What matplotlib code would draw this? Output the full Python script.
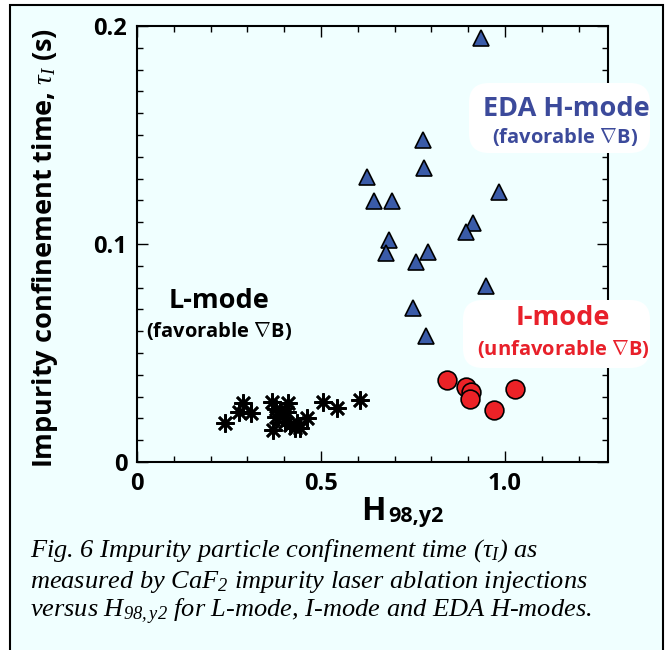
import matplotlib
matplotlib.use('Agg')
import matplotlib.pyplot as plt
from matplotlib.patches import FancyBboxPatch, Rectangle
from matplotlib.ticker import MultipleLocator

# 데이터: 그림에서 읽은 값 (H98,y2 , tau_I)
lmode_h = [0.239, 0.278, 0.289, 0.311, 0.366, 0.370, 0.377, 0.388, 0.379, 0.411,
           0.408, 0.402, 0.415, 0.434, 0.443, 0.429, 0.461, 0.506, 0.544, 0.607]
lmode_tau = [0.0177, 0.0231, 0.0269, 0.0226, 0.0276, 0.0147, 0.0208, 0.0239, 0.0242, 0.0272,
             0.0231, 0.0185, 0.0170, 0.0177, 0.0154, 0.0154, 0.0200, 0.0276, 0.0246, 0.0284]

hmode_h = [0.934, 0.776, 0.779, 0.625, 0.644, 0.693, 0.984, 0.914,
           0.895, 0.684, 0.676, 0.792, 0.759, 0.949, 0.749, 0.786]
hmode_tau = [0.1943, 0.1477, 0.1347, 0.1309, 0.1197, 0.1197, 0.1240, 0.1098,
             0.1057, 0.1018, 0.0957, 0.0965, 0.0919, 0.0807, 0.0708, 0.0578]

imode_h = [0.842, 0.895, 0.909, 0.906, 1.026, 0.969]
imode_tau = [0.0376, 0.0345, 0.0320, 0.0288, 0.0333, 0.0238]

x_ticks = [0, 0.5, 1.0]
x_ticklabels = ['0', '0.5', '1.0']
y_ticks = [0, 0.1, 0.2]
y_ticklabels = ['0', '0.1', '0.2']

bg = '#F0FFFF'
blue_txt = '#3C4A9B'
red_txt = '#E8202A'
sans = ['Open Sans', 'DejaVu Sans']

plt.rcParams['font.family'] = sans
plt.rcParams['mathtext.fontset'] = 'custom'
plt.rcParams['mathtext.it'] = 'Liberation Serif:italic'
plt.rcParams['mathtext.rm'] = 'Liberation Serif:italic'

fig = plt.figure(figsize=(6.66, 6.5), dpi=100, facecolor='white')

# 바깥 테두리
fig.add_artist(Rectangle((10 / 666, -0.02), 653 / 666, 1.02 - 5 / 650,
                         transform=fig.transFigure, facecolor=bg,
                         edgecolor='black', linewidth=1.5, zorder=-5))

ax = fig.add_axes([0.2057, 0.2892, 0.7072, 0.6708])
ax.set_facecolor(bg)

ax.plot(lmode_h, lmode_tau, ls='none', marker=(8, 2, 0), ms=13, mew=1.9,
        color='black')
ax.plot(hmode_h, hmode_tau, ls='none', marker='^', ms=11.5, mew=1.2,
        mfc='#3A5BA8', mec='black')
ax.plot(imode_h, imode_tau, ls='none', marker='o', ms=13.5, mew=1.2,
        mfc='#EC2227', mec='black')

ax.set_xlim(0, 1.28)
ax.set_ylim(0, 0.2)
ax.set_xticks(x_ticks)
ax.set_xticklabels(x_ticklabels)
ax.set_yticks(y_ticks)
ax.set_yticklabels(y_ticklabels)
ax.xaxis.set_minor_locator(MultipleLocator(0.1))
ax.yaxis.set_minor_locator(MultipleLocator(0.01))
ax.tick_params(which='both', direction='in', top=True, right=True, width=1)
ax.tick_params(which='major', length=8)
ax.tick_params(which='minor', length=4.5)
ax.tick_params(axis='x', pad=7)
ax.tick_params(axis='y', pad=7)
for lab in ax.get_xticklabels() + ax.get_yticklabels():
    lab.set_fontsize(17)
    lab.set_fontweight('bold')
for sp in ax.spines.values():
    sp.set_linewidth(1.5)

# 축 레이블
fig.text(45 / 666, 1 - 248 / 650, r'Impurity confinement time, $\tau_{I}$ (s)',
         rotation=90, ha='center', va='center', fontsize=19.5, fontweight='bold')
fig.text(386 / 666, 1 - 520 / 650, 'H', ha='right', va='baseline',
         fontsize=23, fontweight='bold')
fig.text(388 / 666, 1 - 522 / 650, '98,y2', ha='left', va='baseline',
         fontsize=15.5, fontweight='bold')

# 라벨 상자
fig.add_artist(FancyBboxPatch((469 / 666, 1 - 153 / 650), 181 / 666, 70 / 650,
                              boxstyle='round,pad=0,rounding_size=0.03',
                              transform=fig.transFigure, facecolor='white',
                              edgecolor='none', zorder=3))
fig.add_artist(FancyBboxPatch((463 / 666, 1 - 368 / 650), 187 / 666, 68 / 650,
                              boxstyle='round,pad=0,rounding_size=0.03',
                              transform=fig.transFigure, facecolor='white',
                              edgecolor='none', zorder=3))

sub_fav = r'(favorable $\nabla$B)'
sub_unf = r'(unfavorable $\nabla$B)'
fig.text(566 / 666, 1 - 109 / 650, 'EDA H-mode', ha='center', va='center',
         fontsize=19.5, fontweight='bold', color=blue_txt, zorder=4)
fig.text(565 / 666, 1 - 137 / 650, sub_fav, ha='center', va='center',
         fontsize=14.5, fontweight='bold', color=blue_txt, zorder=4)
fig.text(563 / 666, 1 - 318 / 650, 'I-mode', ha='center', va='center',
         fontsize=19.5, fontweight='bold', color=red_txt, zorder=4)
fig.text(563 / 666, 1 - 349 / 650, sub_unf, ha='center', va='center',
         fontsize=14.5, fontweight='bold', color=red_txt, zorder=4)
fig.text(219 / 666, 1 - 301 / 650, 'L-mode', ha='center', va='center',
         fontsize=19.5, fontweight='bold', color='black', zorder=4)
fig.text(219 / 666, 1 - 331 / 650, sub_fav, ha='center', va='center',
         fontsize=14.5, fontweight='bold', color='black', zorder=4)

# 캡션
cap = dict(family='Liberation Serif', style='italic', fontsize=19,
           ha='left', va='baseline')
fig.text(30 / 666, 1 - 557 / 650,
         r'Fig. 6 Impurity particle confinement time ($\tau_{I}$) as', **cap)
fig.text(30 / 666, 1 - 588 / 650,
         r'measured by CaF$_{2}$ impurity laser ablation injections', **cap)
fig.text(30 / 666, 1 - 617 / 650,
         r'versus H$_{98,y2}$ for L-mode, I-mode and EDA H-modes.', **cap)

fig.savefig('out.png', dpi=100, facecolor=fig.get_facecolor())
